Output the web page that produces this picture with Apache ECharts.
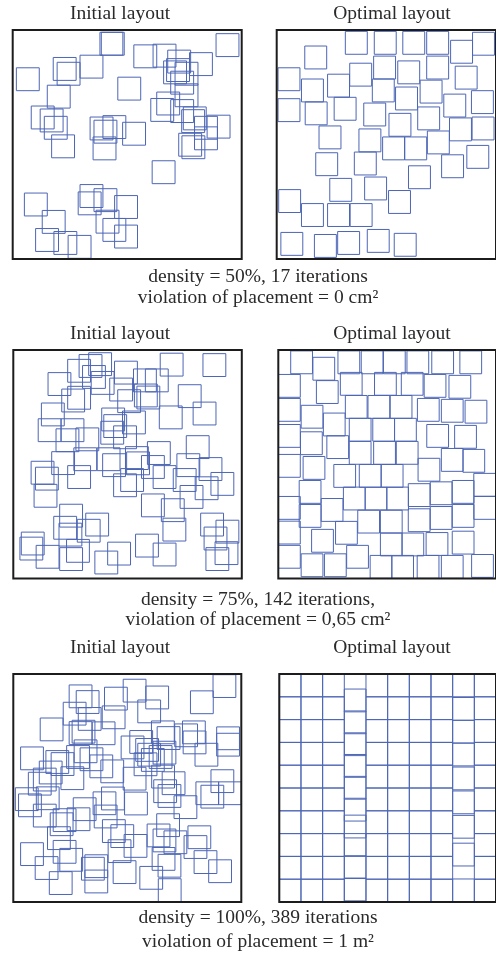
<!DOCTYPE html>
<html>
<head>
<meta charset="utf-8">
<script src="https://cdn.jsdelivr.net/npm/echarts@6/dist/echarts.min.js"></script>
<style>
html,body{margin:0;padding:0;background:#fff;}
#chart{width:496px;height:956px;}
</style>
</head>
<body>
<div id="chart"></div>
<script>
// Square positions: [x, y] of the top-left corner, in units of one square side (box = 10 x 10, y measured downward)
const init50 = [[3.81,0.10],[3.87,0.10],[8.88,0.16],[5.29,0.65],[6.13,0.62],[6.77,0.88],[7.72,0.99],[1.77,1.20],[1.94,1.41],[2.94,1.10],[0.16,1.65],[6.59,1.35],[6.72,1.25],[7.09,1.41],[6.90,1.80],[7.09,2.35],[4.59,2.06],[1.51,2.41],[6.29,2.71],[6.03,2.99],[6.90,3.04],[0.81,3.32],[1.20,3.45],[1.38,3.77],[7.45,3.36],[7.38,3.48],[7.94,3.77],[8.49,3.72],[3.38,3.80],[3.94,3.74],[3.55,3.94],[4.80,4.03],[7.94,4.23],[7.25,4.51],[7.39,4.62],[1.70,4.58],[3.51,4.67],[6.09,5.71],[2.94,6.75],[2.86,7.07],[3.55,6.93],[0.51,7.12],[4.45,7.23],[1.29,7.88],[3.64,7.87],[3.94,8.23],[4.45,8.52],[1.00,8.67],[1.80,8.80],[2.42,8.97]];

const opt50 = [[3.13,0.06],[4.45,0.06],[5.75,0.06],[6.84,0.06],[8.93,0.10],[7.93,0.45],[1.28,0.70],[0.06,1.65],[3.33,1.45],[4.42,1.14],[5.52,1.35],[6.84,1.14],[8.14,1.58],[1.13,2.14],[2.32,1.93],[4.36,2.14],[5.42,2.49],[6.54,2.19],[7.62,2.80],[8.88,2.65],[0.06,3.00],[1.30,3.14],[2.62,2.94],[3.97,3.19],[5.12,3.64],[6.43,3.36],[7.88,3.84],[8.91,3.80],[1.93,4.19],[3.75,4.32],[4.83,4.67],[5.84,4.67],[6.87,4.41],[8.67,5.04],[1.78,5.36],[3.54,5.33],[7.52,5.45],[6.01,5.93],[2.42,6.48],[4.01,6.42],[0.09,6.97],[5.10,7.01],[1.13,7.58],[2.32,7.58],[3.35,7.58],[0.19,8.84],[1.72,8.93],[2.78,8.80],[4.13,8.71],[5.36,8.88]];

const init75 = [[2.88,0.20],[3.30,0.12],[6.43,0.14],[8.30,0.16],[2.38,0.41],[3.03,0.68],[3.41,0.94],[4.43,0.49],[5.26,0.83],[5.78,0.83],[1.52,0.99],[4.22,1.23],[2.12,1.71],[2.38,1.59],[5.41,1.58],[5.30,1.49],[4.57,1.74],[7.22,1.52],[7.87,2.28],[1.23,2.32],[6.39,2.45],[3.87,2.54],[4.78,2.67],[1.09,3.01],[2.09,3.01],[3.96,2.83],[3.83,3.12],[4.39,3.32],[1.87,3.45],[2.74,3.41],[7.57,3.75],[1.68,4.45],[2.65,4.28],[3.67,4.28],[4.91,4.23],[5.87,4.01],[3.91,4.54],[4.96,4.46],[5.61,4.62],[7.16,4.54],[8.13,4.71],[0.78,4.87],[0.97,5.13],[2.38,5.06],[4.70,5.19],[4.39,5.42],[6.12,5.06],[7.00,5.19],[8.65,5.36],[7.96,5.55],[0.91,5.88],[7.30,5.93],[5.61,6.30],[6.48,6.51],[2.03,6.75],[1.77,7.28],[3.17,7.14],[2.80,7.41],[2.00,7.58],[6.55,7.36],[8.20,7.14],[8.87,7.45],[8.35,7.75],[0.35,7.97],[0.29,8.19],[2.33,8.29],[4.13,8.41],[5.35,8.06],[6.12,8.45],[1.00,8.55],[2.03,8.65],[3.57,8.80],[8.43,8.65],[8.83,8.39]];

const opt75 = [[0.57,0.04],[2.74,0.04],[3.81,0.04],[4.83,0.04],[5.91,0.04],[7.05,0.04],[8.34,0.04],[1.59,0.32],[0.01,1.07],[2.85,0.98],[4.42,0.98],[5.65,0.98],[6.70,1.07],[7.84,1.11],[1.75,1.34],[0.01,2.12],[1.05,2.42],[3.08,1.99],[4.12,1.99],[5.14,1.99],[6.39,2.12],[7.49,2.16],[8.58,2.20],[2.07,2.76],[0.01,3.26],[1.02,3.58],[3.26,2.99],[4.34,2.99],[5.34,2.99],[6.82,3.26],[8.10,3.30],[2.23,3.75],[0.01,4.57],[1.14,4.66],[3.26,4.00],[4.38,4.00],[5.42,4.00],[7.49,4.31],[8.48,4.35],[6.42,4.74],[2.55,5.01],[3.72,5.01],[4.73,5.01],[8.98,5.40],[0.96,5.71],[2.99,6.00],[3.99,6.00],[4.98,6.00],[5.97,5.85],[6.98,5.77],[7.99,5.71],[8.98,6.41],[0.01,6.41],[0.96,6.76],[1.97,6.50],[3.65,7.01],[4.69,7.01],[5.97,6.95],[6.98,6.85],[7.99,6.76],[0.01,7.49],[2.63,7.50],[1.53,7.85],[4.69,8.01],[5.68,8.01],[6.79,7.99],[7.99,7.93],[0.01,8.55],[1.05,8.92],[2.12,8.92],[3.14,8.55],[4.22,8.99],[5.21,8.99],[6.38,8.99],[7.49,8.99],[8.88,8.95]];

const init100 = [[8.76,0.03],[4.82,0.23],[2.45,0.48],[2.76,0.73],[4.00,0.58],[5.81,0.53],[7.77,0.74],[5.46,1.14],[2.19,1.24],[2.85,1.47],[3.90,1.40],[1.18,1.93],[2.45,2.09],[2.58,2.03],[3.46,2.10],[6.06,2.06],[6.31,2.31],[7.08,2.19],[7.42,2.06],[7.45,2.50],[8.92,2.32],[8.92,2.60],[4.73,2.72],[5.11,2.48],[5.37,2.83],[5.46,3.04],[5.62,3.27],[5.96,3.14],[5.30,3.46],[6.13,2.95],[7.97,3.04],[0.32,3.20],[2.67,2.89],[2.34,3.14],[2.93,3.24],[3.36,3.55],[1.43,3.36],[1.66,3.45],[3.84,3.77],[2.09,4.07],[1.14,3.82],[0.88,4.13],[0.66,4.31],[4.82,4.09],[6.07,4.00],[6.53,4.29],[8.67,4.20],[8.01,4.73],[8.23,4.88],[9.00,4.73],[6.16,4.64],[6.35,4.85],[7.05,5.34],[0.09,4.99],[0.23,5.26],[1.01,4.95],[3.50,5.17],[3.87,4.96],[4.88,5.18],[2.63,5.43],[3.55,5.75],[0.88,5.71],[1.75,5.91],[1.62,6.09],[2.36,5.87],[6.29,6.13],[3.91,6.39],[4.28,6.61],[1.50,6.70],[5.87,6.58],[6.13,6.80],[6.61,6.88],[7.66,6.66],[7.49,7.09],[4.86,7.04],[4.16,7.27],[1.75,7.30],[2.04,7.65],[0.32,7.40],[0.96,8.01],[3.14,7.93],[2.99,8.04],[4.38,8.19],[6.09,7.61],[6.35,7.91],[7.93,7.75],[8.57,8.15],[1.58,8.67],[5.55,8.44],[3.14,8.60],[6.36,8.98]];

// Optimal layout at 100%: one column of squares per x position, listing the squares' top y values
const opt100ColX = [0, 1, 2, 3, 4, 5, 6, 7, 8, 9];
const opt100ColTops = [
  [0, 1, 2, 3, 4, 5, 6, 7, 8, 9],
  [0, 1, 2, 3, 4, 5, 6, 7, 8, 9],
  [0, 1, 2, 3, 4, 5, 6, 7, 8, 9],
  [0.66, 1.62, 2.58, 3.53, 4.49, 5.45, 6.19, 7.00, 7.97, 8.95],
  [0, 1, 2, 3, 4, 5, 6, 7, 8, 9],
  [0, 1, 2, 3, 4, 5, 6, 7, 8, 9],
  [0, 1, 2, 3, 4, 5, 6, 7, 8, 9],
  [0, 1, 2, 3, 4, 5, 6, 7, 8, 9],
  [0, 1.03, 2.03, 3.03, 4.08, 5.13, 6.20, 7.42, 8.99],
  [0, 1, 2, 3, 4, 5, 6, 7, 8, 9]
];

const panelTitles = ['Initial layout', 'Optimal layout'];
const captions = [
  ['density = 50%, 17 iterations', 'violation of placement = 0 cm\u00B2'],
  ['density = 75%, 142 iterations,', 'violation of placement = 0,65 cm\u00B2'],
  ['density = 100%, 389 iterations', 'violation of placement = 1 m\u00B2']
];

// ---- build
const opt100 = [];
opt100ColX.forEach((x, i) => opt100ColTops[i].forEach(y => opt100.push([x, y])));

const panelData = [init50, opt50, init75, opt75, init100, opt100];
const panelBoxes = [
  {left: 12.7, top: 30, size: 229},
  {left: 276.7, top: 30, size: 229},
  {left: 13.3, top: 350, size: 228.5},
  {left: 278.3, top: 350, size: 228.5},
  {left: 13.3, top: 674, size: 228},
  {left: 279.3, top: 674, size: 228}
];
const titleY = [14, 334, 648];
const captionY = [[277, 298], [600, 620], [918, 942]];

const chart = echarts.init(document.getElementById('chart'), null, {renderer: 'canvas'});

const grids = [], xAxes = [], yAxes = [], series = [];
panelBoxes.forEach((b, i) => {
  grids.push({left: b.left, top: b.top, width: b.size, height: b.size, show: true,
    borderColor: '#1c1c1c', borderWidth: 2, backgroundColor: 'rgba(0,0,0,0)', z: 3});
  xAxes.push({gridIndex: i, type: 'value', min: 0, max: 10, show: false});
  yAxes.push({gridIndex: i, type: 'value', min: 0, max: 10, inverse: true, show: false});
  series.push({
    type: 'custom', xAxisIndex: i, yAxisIndex: i, data: panelData[i], silent: true,
    clip: false, animation: false, z: 2,
    renderItem: function (params, api) {
      const x = api.value(0), y = api.value(1);
      const p0 = api.coord([x, y]);
      const p1 = api.coord([x + 1, y + 1]);
      return {type: 'rect', shape: {x: p0[0], y: p0[1], width: p1[0] - p0[0], height: p1[1] - p0[1]},
        style: {fill: null, stroke: '#4d66b5', lineWidth: 1}};
    }
  });
});

const graphics = [];
const font = {fontFamily: 'Liberation Serif', fontSize: 19.5, fill: '#2a2a2a'};
titleY.forEach((ty, r) => {
  [120, 392].forEach((tx, c) => {
    graphics.push({type: 'text', x: tx, y: ty, style: Object.assign({text: panelTitles[c], textAlign: 'center', textVerticalAlign: 'middle', align: 'center', verticalAlign: 'middle'}, font)});
  });
  captions[r].forEach((t, k) => {
    graphics.push({type: 'text', x: 258, y: captionY[r][k], style: Object.assign({text: t, textAlign: 'center', textVerticalAlign: 'middle', align: 'center', verticalAlign: 'middle'}, font)});
  });
});

chart.setOption({
  animation: false,
  backgroundColor: '#ffffff',
  grid: grids, xAxis: xAxes, yAxis: yAxes, series: series,
  graphic: graphics
});
</script>
</body>
</html>
